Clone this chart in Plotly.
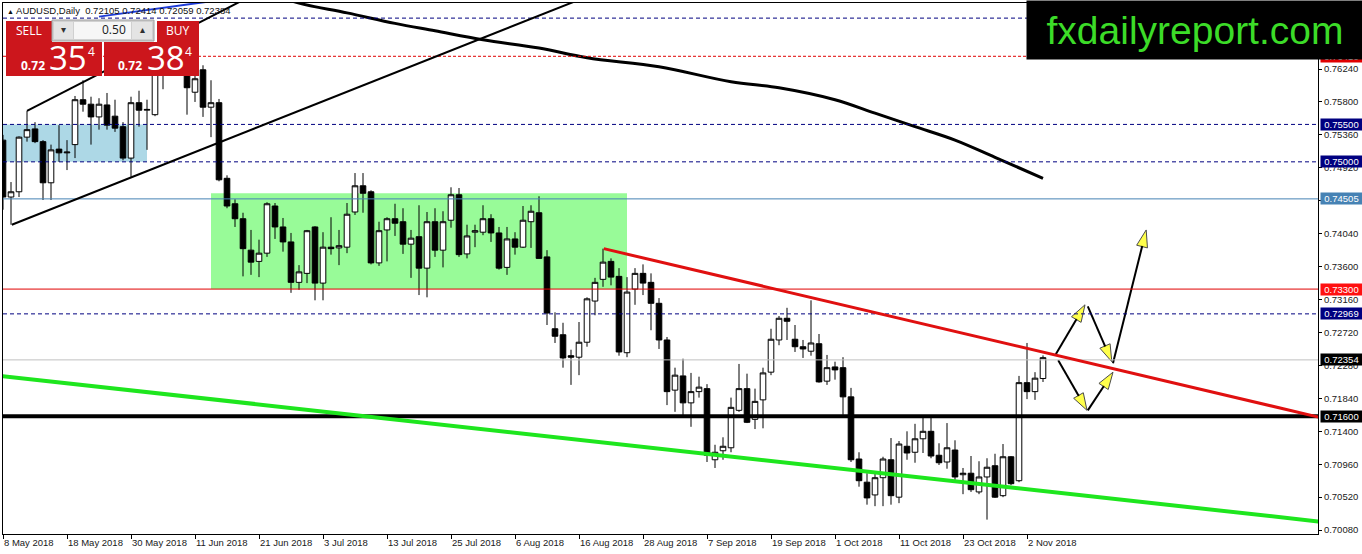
import plotly.graph_objects as go

# AUDUSD daily bars, 8 May 2018 .. 6 Nov 2018, one bar per weekday (bar number 0..130)
opens = [0.7529, 0.7453, 0.7460, 0.7533, 0.7544, 0.7527, 0.7472, 0.7517, 0.7512, 0.7523,
         0.7583, 0.7577, 0.7560, 0.7576, 0.7561, 0.7547, 0.7505, 0.7579, 0.7569, 0.7563,
         0.7633, 0.7649, 0.7669, 0.7636, 0.7593, 0.7623, 0.7573, 0.7579, 0.7478, 0.7444,
         0.7424, 0.7382, 0.7367, 0.7378, 0.7441, 0.7413, 0.7393, 0.7339, 0.7351, 0.7413,
         0.7338, 0.7386, 0.7385, 0.7386, 0.7433, 0.7468, 0.7460, 0.7365, 0.7409, 0.7424,
         0.7420, 0.7390, 0.7400, 0.7358, 0.7420, 0.7382, 0.7422, 0.7456, 0.7377, 0.7406,
         0.7406, 0.7424, 0.7405, 0.7359, 0.7397, 0.7386, 0.7420, 0.7432, 0.7373, 0.7277,
         0.7269, 0.7241, 0.7239, 0.7259, 0.7314, 0.7343, 0.7367, 0.7347, 0.7245, 0.7330,
         0.7351, 0.7339, 0.7311, 0.7262, 0.7195, 0.7214, 0.7178, 0.7193, 0.7197, 0.7102,
         0.7114, 0.7118, 0.7168, 0.7197, 0.7156, 0.7182, 0.7219, 0.7262, 0.7291, 0.7263,
         0.7253, 0.7247, 0.7257, 0.7207, 0.7226, 0.7225, 0.7186, 0.7103, 0.7072, 0.7055,
         0.7078, 0.7102, 0.7052, 0.7120, 0.7112, 0.7130, 0.7140, 0.7108, 0.7099, 0.7115,
         0.7082, 0.7084, 0.7059, 0.7079, 0.7094, 0.7054, 0.7106, 0.7074, 0.7205, 0.7193,
         0.72105]
highs = [0.7536, 0.7473, 0.7534, 0.7568, 0.7553, 0.7529, 0.7523, 0.7549, 0.7529, 0.7588,
         0.7609, 0.7587, 0.7585, 0.7592, 0.7583, 0.7553, 0.7587, 0.7595, 0.7583, 0.7647,
         0.7663, 0.7679, 0.7676, 0.7649, 0.7623, 0.7629, 0.7609, 0.7584, 0.7482, 0.7450,
         0.7432, 0.7409, 0.7396, 0.7446, 0.7445, 0.7425, 0.7405, 0.7362, 0.7409, 0.7414,
         0.7406, 0.7426, 0.7409, 0.7445, 0.7485, 0.7485, 0.7462, 0.7420, 0.7426, 0.7444,
         0.7438, 0.7409, 0.7442, 0.7433, 0.7438, 0.7434, 0.7466, 0.7465, 0.7416, 0.7416,
         0.7442, 0.7430, 0.7413, 0.7413, 0.7406, 0.7441, 0.7442, 0.7454, 0.7382, 0.7299,
         0.7285, 0.7249, 0.7286, 0.7319, 0.7345, 0.7384, 0.7371, 0.7358, 0.7346, 0.7358,
         0.7363, 0.7351, 0.7318, 0.7266, 0.7225, 0.7237, 0.7218, 0.7213, 0.7203, 0.7122,
         0.7132, 0.7185, 0.7230, 0.7217, 0.7197, 0.7225, 0.7277, 0.7294, 0.7305, 0.7282,
         0.7262, 0.7315, 0.7270, 0.7242, 0.7233, 0.7239, 0.7198, 0.7112, 0.7084, 0.7084,
         0.7106, 0.7131, 0.7127, 0.7140, 0.7150, 0.7159, 0.7159, 0.7124, 0.7151, 0.7128,
         0.7091, 0.7107, 0.7100, 0.7104, 0.7110, 0.7123, 0.7107, 0.7214, 0.7258, 0.7219,
         0.72414]
lows = [0.7436, 0.7416, 0.7453, 0.7527, 0.7525, 0.7449, 0.7449, 0.7500, 0.7489, 0.7505,
        0.7567, 0.7523, 0.7543, 0.7543, 0.7540, 0.7502, 0.7480, 0.7547, 0.7516, 0.7561,
        0.7597, 0.7643, 0.7636, 0.7563, 0.7580, 0.7560, 0.7533, 0.7474, 0.7438, 0.7413,
        0.7347, 0.7349, 0.7346, 0.7373, 0.7397, 0.7380, 0.7325, 0.7329, 0.7338, 0.7315,
        0.7315, 0.7376, 0.7362, 0.7378, 0.7429, 0.7432, 0.7363, 0.7361, 0.7367, 0.7401,
        0.7377, 0.7345, 0.7322, 0.7319, 0.7373, 0.7359, 0.7412, 0.7373, 0.7371, 0.7386,
        0.7402, 0.7393, 0.7356, 0.7349, 0.7376, 0.7385, 0.7385, 0.7371, 0.7282, 0.7258,
        0.7225, 0.7202, 0.7215, 0.7253, 0.7295, 0.7333, 0.7335, 0.7241, 0.7239, 0.7309,
        0.7322, 0.7275, 0.7250, 0.7175, 0.7166, 0.7158, 0.7146, 0.7185, 0.7099, 0.7091,
        0.7102, 0.7112, 0.7166, 0.7151, 0.7143, 0.7144, 0.7215, 0.7255, 0.7262, 0.7246,
        0.7238, 0.7241, 0.7205, 0.7202, 0.7209, 0.7162, 0.7099, 0.7066, 0.7042, 0.7040,
        0.7040, 0.7042, 0.7044, 0.7102, 0.7098, 0.7111, 0.7104, 0.7095, 0.7090, 0.7075,
        0.7056, 0.7059, 0.7056, 0.7022, 0.7051, 0.7052, 0.7068, 0.7072, 0.7183, 0.7182,
        0.72059]
closes = [0.7453, 0.7460, 0.7533, 0.7543, 0.7527, 0.7472, 0.7516, 0.7512, 0.7513, 0.7583,
          0.7577, 0.7560, 0.7577, 0.7549, 0.7545, 0.7505, 0.7579, 0.7569, 0.7570, 0.7633,
          0.7649, 0.7669, 0.7656, 0.7599, 0.7611, 0.7573, 0.7579, 0.7476, 0.7441, 0.7424,
          0.7384, 0.7366, 0.7378, 0.7444, 0.7413, 0.7393, 0.7339, 0.7353, 0.7408, 0.7338,
          0.7386, 0.7384, 0.7388, 0.7430, 0.7468, 0.7458, 0.7365, 0.7408, 0.7424, 0.7418,
          0.7390, 0.7398, 0.7358, 0.7420, 0.7382, 0.7420, 0.7456, 0.7376, 0.7401, 0.7408,
          0.7424, 0.7405, 0.7358, 0.7397, 0.7386, 0.7422, 0.7434, 0.7371, 0.7298, 0.7267,
          0.7238, 0.7239, 0.7259, 0.7317, 0.7339, 0.7366, 0.7346, 0.7246, 0.7326, 0.7351,
          0.7338, 0.7311, 0.7262, 0.7193, 0.7215, 0.7178, 0.7193, 0.7199, 0.7108, 0.7112,
          0.7120, 0.7172, 0.7197, 0.7152, 0.7180, 0.7218, 0.7263, 0.7291, 0.7287, 0.7253,
          0.7250, 0.7258, 0.7206, 0.7225, 0.7222, 0.7186, 0.7102, 0.7074, 0.7051, 0.7078,
          0.7103, 0.7054, 0.7123, 0.7111, 0.7130, 0.7140, 0.7107, 0.7098, 0.7118, 0.7079,
          0.7084, 0.7062, 0.7079, 0.7092, 0.7052, 0.7106, 0.7070, 0.7205, 0.7193, 0.7211,
          0.72384]
bars = list(range(len(closes)))

date_ticks = [0, 8, 16, 24, 32, 40, 48, 56, 64, 72, 80, 88, 96, 104, 112, 120, 128]
date_labels = ["8 May 2018", "18 May 2018", "30 May 2018", "11 Jun 2018", "21 Jun 2018",
               "3 Jul 2018", "13 Jul 2018", "25 Jul 2018", "6 Aug 2018", "16 Aug 2018",
               "28 Aug 2018", "7 Sep 2018", "19 Sep 2018", "1 Oct 2018", "11 Oct 2018",
               "23 Oct 2018", "2 Nov 2018"]
price_ticks = [0.70080, 0.70520, 0.70960, 0.71400, 0.71840, 0.72280, 0.72720, 0.73160,
               0.73600, 0.74040, 0.74480, 0.74920, 0.75360, 0.75800, 0.76240]

# long moving average (thick black curve)
ma_bars = [34, 37, 43, 49, 54, 60, 67, 73, 82, 91, 97, 104, 109, 114, 119, 124, 130]
ma_vals = [0.7723, 0.7712, 0.7699, 0.7685, 0.7675, 0.7663, 0.7652, 0.7639, 0.7627,
           0.7607, 0.7599, 0.7583, 0.7565, 0.7547, 0.7529, 0.7506, 0.7478]

# horizontal levels: price, colour, width, dash, label background (None = no label)
levels = [
    (0.7692, "#000080", 1, "4px,3px", None),
    (0.7641, "#E00000", 1, "3px,2px", "#E00000"),
    (0.7550, "#000080", 1, "4px,3px", "#000080"),
    (0.7500, "#000080", 1, "4px,3px", "#000080"),
    (0.74505, "#4682B4", 1, "solid", "#4682B4"),
    (0.7330, "#E00000", 1, "solid", "#FF1010"),
    (0.72969, "#000080", 1, "4px,3px", "#000080"),
    (0.72354, "#C0C0C0", 1, "solid", "#000000"),
    (0.7160, "#000000", 4, "solid", "#000000"),
]

# zones and trendlines (bar, price anchors)
blue_zone = (-1, 18, 0.7500, 0.7550)
green_zone = (26, 78, 0.7330, 0.7458)
trendlines = [
    ((3, 0.7568), (32, 0.7727), "#000000", 2),
    ((1.1, 0.7416), (74, 0.7725), "#000000", 2),
    ((12, 0.7694), (27, 0.7716), "#1E3CD8", 2),
    ((75.1, 0.7384), (170, 0.7145), "#E01010", 3),
    ((-2, 0.7216), (170, 0.7013), "#1EE61E", 4),
]
# projected path arrows (start, end)
arrows = [
    ((131.6, 0.7243), (135.25, 0.7309)),
    ((135.6, 0.7307), (138.6, 0.7233)),
    ((138.75, 0.7231), (142.9, 0.7409)),
    ((131.9, 0.7235), (135.5, 0.7168)),
    ((135.6, 0.7168), (138.75, 0.7219)),
]

W, H = 1362, 554
L, R, T, B = 3, 1318, 3, 534


def px(x):
    return (x - L) / (R - L)


def py(y):
    return 1 - (y - T) / (B - T)


fig = go.Figure()

fig.add_trace(go.Candlestick(
    x=bars, open=opens, high=highs, low=lows, close=closes,
    increasing=dict(line=dict(color="black", width=1), fillcolor="white"),
    decreasing=dict(line=dict(color="black", width=1), fillcolor="black"),
    whiskerwidth=0, showlegend=False, hoverinfo="skip"))

fig.add_trace(go.Scatter(x=ma_bars, y=ma_vals, mode="lines",
                         line=dict(color="black", width=3, shape="spline"),
                         showlegend=False, hoverinfo="skip"))

for (x0, y0), (x1, y1) in arrows:
    fig.add_trace(go.Scatter(
        x=[x0, x1], y=[y0, y1], mode="lines+markers",
        line=dict(color="black", width=2),
        marker=dict(symbol="arrow", size=[0, 18], angleref="previous",
                    color="#FFFF00", line=dict(color="black", width=1)),
        showlegend=False, hoverinfo="skip"))

shapes = []
for (x0, x1, y0, y1), col in [(blue_zone, "#ADD8E6"), (green_zone, "#98FB98")]:
    shapes.append(dict(type="rect", xref="x", yref="y", x0=x0, x1=x1, y0=y0, y1=y1,
                       fillcolor=col, line=dict(width=0), layer="below"))

for p, col, wid, dash, lab in levels:
    shapes.append(dict(type="line", xref="paper", yref="y", x0=0, x1=1, y0=p, y1=p,
                       line=dict(color=col, width=wid, dash=dash), layer="above"))

for (x0, y0), (x1, y1), col, wid in trendlines:
    shapes.append(dict(type="line", xref="x", yref="y", x0=x0, y0=y0, x1=x1, y1=y1,
                       line=dict(color=col, width=wid), layer="above"))


def box(x0, y0, x1, y1, fill, line=None):
    shapes.append(dict(type="rect", xref="paper", yref="paper",
                       x0=px(x0), x1=px(x1), y0=py(y1), y1=py(y0),
                       fillcolor=fill, line=line or dict(width=0), layer="above"))


# one-click trading panel
red = "#CC161C"
box(6, 21, 52, 42, red)
box(52, 20, 154, 41, "#D0D0D0", dict(color="#A0A0A0", width=1))
box(54, 22, 73, 39, "#E4E4E4")
box(74, 22, 131, 39, "#F6F6F6")
box(132, 22, 152, 39, "#E4E4E4")
box(157, 21, 199, 42, red)
box(6, 42, 102, 76, red)
box(104, 42, 199, 76, red)

annotations = []


def text(x, y, s, size, color="white", anchor="left", family="Liberation Sans", **kw):
    annotations.append(dict(xref="paper", yref="paper", x=px(x), y=py(y), text=s,
                            showarrow=False, xanchor=anchor, yanchor="middle",
                            font=dict(size=size, color=color, family=family), **kw))


text(5, 10, "<span style='font-size:7px'>▲</span> AUDUSD,Daily  0.72105 0.72414 0.72059 0.72384",
     9.5, color="#101010")
text(29, 31, "SELL", 12, anchor="center", family="Open Sans")
text(178, 31, "BUY", 12, anchor="center", family="Open Sans")
text(63, 30, "▾", 10, color="#303030", anchor="center")
text(142, 30, "▴", 10, color="#303030", anchor="center")
text(128, 30, "0.50", 12, color="#202020", anchor="right", family="Open Sans")
text(19, 65, "<b>0.72</b>", 12, family="Open Sans")
text(47, 58, "35", 33, family="Open Sans")
text(86, 51, "4", 12, family="Open Sans")
text(116, 65, "<b>0.72</b>", 12, family="Open Sans")
text(145, 58, "38", 33, family="Open Sans")
text(183, 51, "4", 12, family="Open Sans")

# price labels on the right scale
for p, col, wid, dash, lab in levels:
    if lab is None:
        continue
    annotations.append(dict(xref="paper", yref="y", x=px(1320), y=p, text=f"{p:.5f}",
                            showarrow=False, xanchor="left", yanchor="middle",
                            width=41, height=11, borderpad=0, bgcolor=lab,
                            font=dict(size=9.5, color="white", family="Liberation Sans")))

# site logo
annotations.append(dict(xref="paper", yref="paper", x=px(1026), y=py(0), text="fxdailyreport.com",
                        showarrow=False, xanchor="left", yanchor="top", width=336, height=58,
                        borderpad=0, bgcolor="black",
                        font=dict(size=39, color="#3CDC28", family="Liberation Sans")))

fig.update_layout(
    width=W, height=H,
    margin=dict(l=L, r=W - R, t=T, b=H - B),
    paper_bgcolor="white", plot_bgcolor="white",
    shapes=shapes, annotations=annotations,
    showlegend=False, boxgap=0.3, boxgroupgap=0,
    font=dict(family="Liberation Sans", size=9.5, color="#202020"),
    xaxis=dict(range=[0, (R - L) / 8], tickvals=date_ticks, ticktext=date_labels,
               ticks="outside", ticklen=4, tickcolor="black", ticklabelposition="outside right",
               showline=True, linecolor="black", mirror=True, showgrid=False, zeroline=False,
               rangeslider=dict(visible=False), fixedrange=True),
    yaxis=dict(range=[0.70028, 0.77122], side="right", tickvals=price_ticks, tickformat=".5f",
               ticks="outside", ticklen=3, tickcolor="black",
               showline=True, linecolor="black", mirror=True, showgrid=False, zeroline=False,
               fixedrange=True),
)

# page body has a default margin; drop it so the chart sits at the window corner
fig.write_html("out.html", config={"displayModeBar": False},
               post_script="document.body.style.margin='0';document.body.style.overflow='hidden';")
